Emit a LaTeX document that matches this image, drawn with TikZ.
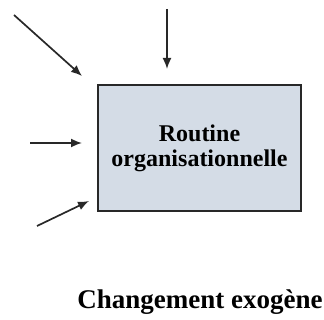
\documentclass[tikz,border=0pt]{standalone}
\usepackage{fontspec}
\setmainfont{Liberation Serif}
\usetikzlibrary{arrows.meta}

\definecolor{boxfill}{RGB}{212,220,230}
\definecolor{trait}{RGB}{40,40,40}

\tikzset{
  routine/.style={draw=trait,line width=1.8pt,fill=boxfill,minimum width=203pt,
    minimum height=126pt,align=center,font=\fontsize{24}{25}\selectfont\bfseries},
  fleche/.style={draw=trait,line width=1.7pt,-{Latex[length=11pt,width=9pt]}}
}

\begin{document}
\begin{tikzpicture}[x=1pt,y=-1pt]
\useasboundingbox (0,0) rectangle (324,320);
\node[routine] (routine) at (199.5,148) {Routine\\organisationnelle};
\node[font=\fontsize{27}{30}\selectfont\bfseries] (exogene) at (200,302) {Changement exogène};
% fleches
\coordinate (haut) at (167,9);
\coordinate (hautfin) at (167,69);
\coordinate (diag) at (14,15);
\coordinate (diagfin) at (82,76);
\coordinate (gauche) at (30,143);
\coordinate (gauchefin) at (82,143);
\coordinate (bas) at (37,226);
\coordinate (basfin) at (89,201);
\draw[fleche] (haut) -- (hautfin);
\draw[fleche] (diag) -- (diagfin);
\draw[fleche] (gauche) -- (gauchefin);
\draw[fleche] (bas) -- (basfin);
\end{tikzpicture}
\end{document}
